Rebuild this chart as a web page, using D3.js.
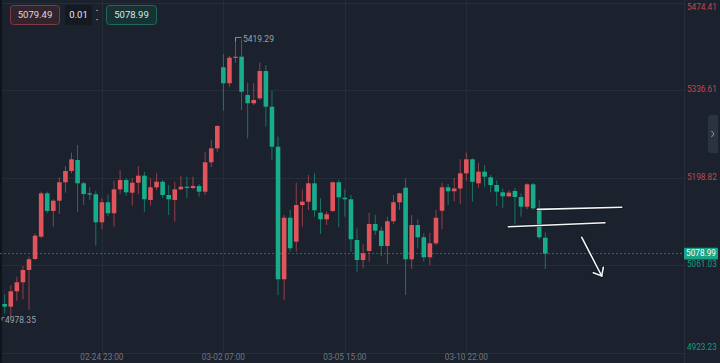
<!DOCTYPE html>
<html>
<head>
<meta charset="utf-8">
<script src="https://cdn.jsdelivr.net/npm/d3@7"></script>
<style>
  html, body { margin: 0; padding: 0; background: #1b212d; }
  svg { display: block; }
  text { font-family: Roboto, "Liberation Sans", sans-serif; }
</style>
</head>
<body>
<svg id="chart" width="720" height="363"></svg>
<script>
// ---------------- data ----------------
const opens = [4999.6,4995.4,5019.6,5033.8,5053.2,5070.5,5105.6,5173.9,5146.1,5162.3,
  5191.3,5209.1,5226.4,5189.7,5173.9,5172.4,5128.3,5159.8,5142.5,5180.2,
  5194.9,5174.9,5190.6,5201.7,5163.4,5183.4,5192.2,5171.3,5163.4,5180.2,
  5184.3,5182.3,5185.4,5176.5,5222.8,5244.8,5372.4,5347.2,5387.5,5389.1,
  5328.8,5315.7,5323.5,5366.5,5310.3,5247.3,5038.5,5135.5,5097.7,5155.5,
  5160.7,5189.7,5143.4,5133.0,5146.1,5191.3,5167.0,5164.5,5100.4,5068.9,
  5083.1,5125.6,5115.1,5091.0,5129.9,5159.8,5182.8,5070.0,5124.0,5104.7,
  5073.2,5095.2,5146.5,5183.4,5177.1,5181.5,5205.4,5227.5,5189.7,5208.0,
  5199.1,5187.0,5175.5,5169.2,5177.6,5168.1,5152.8,5188.1,5149.2,5104.0];
const highs = [5014.9,5029.1,5042.6,5059.5,5074.1,5111.0,5176.5,5176.5,5164.5,5199.1,
  5216.9,5237.9,5250.0,5192.2,5183.4,5177.6,5166.1,5172.4,5193.8,5210.6,
  5197.6,5197.6,5216.9,5208.0,5197.6,5205.4,5194.9,5187.0,5192.2,5201.2,
  5200.1,5200.1,5188.6,5239.4,5257.9,5281.5,5393.3,5390.2,5419.29,5416.5,
  5348.1,5347.2,5380.2,5376.0,5335.5,5263.1,5139.8,5147.6,5190.6,5180.2,
  5202.8,5205.4,5166.1,5145.3,5192.5,5194.9,5180.2,5171.3,5118.8,5093.6,
  5143.4,5139.8,5121.3,5137.1,5171.3,5174.9,5197.6,5139.8,5133.0,5111.0,
  5111.9,5147.6,5190.6,5188.6,5198.0,5227.6,5238.2,5229.1,5222.0,5218.5,
  5202.8,5194.1,5181.8,5179.1,5182.3,5173.9,5189.7,5190.2,5163.4,5112.2];
const lows = [4985.0,4978.35,5004.3,5007.0,4990.2,5068.9,5103.1,5142.5,5121.3,5141.3,
  5174.9,5205.4,5145.0,5155.5,5163.4,5091.4,5117.3,5138.2,5121.3,5172.8,
  5170.2,5154.4,5172.4,5145.0,5154.4,5179.1,5166.1,5139.8,5129.2,5179.1,
  5166.1,5180.2,5168.6,5171.3,5214.9,5239.4,5304.0,5341.8,5379.6,5305.1,
  5260.6,5313.0,5320.9,5278.8,5226.4,5013.8,5005.9,5082.0,5082.0,5121.3,
  5147.6,5137.1,5109.9,5124.0,5144.5,5120.4,5137.1,5082.0,5050.5,5055.8,
  5066.2,5108.3,5075.2,5062.6,5125.6,5147.6,5013.8,5054.7,5087.3,5066.2,
  5061.0,5092.5,5117.3,5155.5,5160.7,5157.1,5193.3,5160.7,5182.8,5184.3,
  5175.2,5153.9,5150.8,5168.1,5125.3,5137.1,5148.7,5147.6,5101.5,5054.7];
const closes = [4995.4,5019.6,5033.8,5053.2,5070.0,5107.2,5173.9,5146.1,5162.3,5191.3,
  5209.1,5227.5,5189.7,5172.8,5172.4,5128.3,5159.8,5142.5,5180.2,5194.9,
  5175.5,5190.6,5201.7,5164.5,5183.4,5192.2,5171.3,5164.5,5180.2,5184.3,
  5183.4,5185.4,5176.5,5222.8,5244.8,5279.9,5347.2,5387.5,5389.1,5333.9,
  5315.7,5320.9,5366.5,5310.3,5247.3,5038.5,5135.5,5087.3,5155.5,5160.7,
  5189.7,5147.2,5133.0,5140.9,5191.3,5167.6,5164.5,5101.5,5068.9,5079.5,
  5125.6,5115.1,5091.0,5129.9,5159.8,5173.9,5070.0,5124.0,5104.7,5073.2,
  5095.2,5135.5,5183.4,5177.1,5181.5,5205.4,5227.5,5192.1,5208.0,5200.1,
  5187.0,5176.5,5169.2,5174.9,5168.1,5152.8,5188.1,5150.3,5104.7,5078.99];

const priceTicks = [5474.41, 5336.61, 5198.82, 5061.03, 4923.23];
const timeTickIndex = [16, 36, 56, 76];
const timeTickLabels = ["02-24 23:00", "03-02 07:00", "03-05 15:00", "03-10 22:00"];
const currentPrice = 5078.99;
const highMark = { index: 38, price: 5419.29, label: "5419.29" };
const lowMark = { index: 1, price: 4978.35, label: "4978.35" };
const topControls = ["5079.49", "0.01", "5078.99"];
// user drawn annotations in (candle index, price) space
const annoLines = [
  [[87.69, 5148.7], [101.58, 5151.9]],
  [[82.91, 5121.3], [98.83, 5127.6]]
];
const annoArrow = [[95.0, 5104.6], [98.29, 5043.7]];
const annoArrowHead = [[96.91, 5048.9], [98.29, 5043.7], [98.55, 5057.4]];

// ---------------- layout ----------------
const W = 720, H = 363;
const plotRight = 684, plotBottom = 352.5;
const UP = "#e2545c", DOWN = "#17ad8a";
const UP_TXT = "#c4464f", DOWN_TXT = "#169c80";

const svg = d3.select("#chart");
const x = d3.scaleLinear().domain([0, 89]).range([4.7, 545.3]);
const y = d3.scaleLinear().domain([4923.23, 5474.41]).range([352.5, 2.5]);

svg.append("rect").attr("width", W).attr("height", H).attr("fill", "#1b212d");

// grid
const grid = svg.append("g").attr("stroke", "#252d3b").attr("stroke-width", 1);
grid.selectAll("line.h").data(priceTicks).join("line")
  .attr("x1", 0).attr("x2", plotRight)
  .attr("y1", d => Math.round(y(d)) + 0.5).attr("y2", d => Math.round(y(d)) + 0.5);
grid.selectAll("line.v").data(timeTickIndex).join("line")
  .attr("x1", d => Math.round(x(d)) + 0.5).attr("x2", d => Math.round(x(d)) + 0.5)
  .attr("y1", 0).attr("y2", plotBottom);
// right axis border
svg.append("line").attr("x1", plotRight + 0.5).attr("x2", plotRight + 0.5)
  .attr("y1", 0).attr("y2", H).attr("stroke", "#262e3c");

// left dark edge
svg.append("rect").attr("x", 0).attr("y", 0).attr("width", 2).attr("height", H).attr("fill", "#0f131a");

// current price dotted line
svg.append("line").attr("x1", 0).attr("x2", plotRight)
  .attr("y1", y(currentPrice)).attr("y2", y(currentPrice))
  .attr("stroke", "#1c7563").attr("stroke-width", 1).attr("stroke-dasharray", "2,2");

// candles
const data = opens.map((o, i) => ({ i, o, h: highs[i], l: lows[i], c: closes[i] }));
const bw = 4.6;
const cg = svg.append("g");
const cand = cg.selectAll("g").data(data).join("g");
cand.append("line")
  .attr("x1", d => x(d.i)).attr("x2", d => x(d.i))
  .attr("y1", d => y(d.h)).attr("y2", d => y(d.l))
  .attr("stroke", d => d.c >= d.o ? UP : DOWN)
  .attr("stroke-opacity", 0.6)
  .attr("stroke-width", 1);
cand.append("rect")
  .attr("x", d => x(d.i) - bw / 2)
  .attr("width", bw)
  .attr("y", d => y(Math.max(d.o, d.c)))
  .attr("height", d => Math.max(1.2, Math.abs(y(d.o) - y(d.c))))
  .attr("fill", d => d.c >= d.o ? UP : DOWN);

// high / low markers
const markCol = "#9aa1ad";
svg.append("path")
  .attr("d", `M${x(highMark.index)},${y(highMark.price) + 4}V${y(highMark.price)}H${x(highMark.index) + 6}`)
  .attr("fill", "none").attr("stroke", markCol).attr("stroke-width", 0.8);
svg.append("text").attr("x", x(highMark.index) + 7.5).attr("y", y(highMark.price) + 2)
  .attr("dominant-baseline", "middle").attr("font-size", 8.5).attr("fill", markCol)
  .text(highMark.label);
svg.append("path")
  .attr("d", `M2,${y(lowMark.price) + 3}V${y(lowMark.price)}H4.5`)
  .attr("fill", "none").attr("stroke", markCol).attr("stroke-width", 0.8);
svg.append("text").attr("x", 5).attr("y", y(lowMark.price) + 3)
  .attr("dominant-baseline", "middle").attr("font-size", 8.5).attr("fill", markCol)
  .text(lowMark.label);

// annotations (white lines with dark outline)
const line = d3.line().x(d => x(d[0])).y(d => y(d[1]));
const anno = svg.append("g").attr("fill", "none").attr("stroke-linecap", "round");
[...annoLines, annoArrow, annoArrowHead].forEach(pts => {
  anno.append("path").attr("d", line(pts)).attr("stroke", "#0c0f14").attr("stroke-width", 3.2).attr("stroke-opacity", 0.7);
});
[...annoLines, annoArrow, annoArrowHead].forEach(pts => {
  anno.append("path").attr("d", line(pts)).attr("stroke", "#f4f5f7").attr("stroke-width", 1.6);
});

// right price axis labels
const lblY = v => Math.min(347.5, Math.max(8.3, y(v)));
svg.append("g").selectAll("text").data(priceTicks).join("text")
  .attr("x", 687).attr("y", lblY)
  .attr("dominant-baseline", "middle")
  .attr("font-size", 8.2)
  .attr("fill", d => d > currentPrice ? UP_TXT : DOWN_TXT)
  .text(d => d.toFixed(2));

// current price box
svg.append("rect").attr("x", 684).attr("y", y(currentPrice) - 5.8).attr("width", 34).attr("height", 11.6)
  .attr("fill", "#18a386").attr("rx", 1);
svg.append("text").attr("x", 701).attr("y", y(currentPrice) + 0.5)
  .attr("text-anchor", "middle").attr("dominant-baseline", "middle")
  .attr("font-size", 8.2).attr("fill", "#ffffff").text(currentPrice.toFixed(2));

// right side collapse tab
svg.append("path").attr("d", "M718,115 H711 Q708,115 708,118 V150 Q708,153 711,153 H718 Z").attr("fill", "#2c3340");
svg.append("path").attr("d", "M711.5,131 L714,134 L711.5,137").attr("fill", "none")
  .attr("stroke", "#9aa1ad").attr("stroke-width", 0.9);

// bottom time axis labels
svg.append("g").selectAll("text").data(timeTickIndex).join("text")
  .attr("x", d => x(d)).attr("y", 357.5)
  .attr("text-anchor", "middle").attr("dominant-baseline", "middle")
  .attr("font-size", 8.2).attr("fill", "#6f7683")
  .text((d, k) => timeTickLabels[k]);

// top-left controls
const ctl = svg.append("g");
ctl.append("rect").attr("x", 10.5).attr("y", 5.5).attr("width", 49).attr("height", 19).attr("rx", 3)
  .attr("fill", "#33232c").attr("stroke", "#7e3a44");
ctl.append("text").attr("x", 35).attr("y", 15.5).attr("text-anchor", "middle").attr("dominant-baseline", "middle")
  .attr("font-size", 9.5).attr("fill", "#e3d6d8").text(topControls[0]);
ctl.append("rect").attr("x", 65).attr("y", 5).attr("width", 27).attr("height", 20).attr("rx", 2)
  .attr("fill", "#141922");
ctl.append("text").attr("x", 78.5).attr("y", 15.5).attr("text-anchor", "middle").attr("dominant-baseline", "middle")
  .attr("font-size", 9.5).attr("fill", "#e6e8ec").text(topControls[1]);
ctl.append("path").attr("d", "M95.5,11 L97,9.5 L98.5,11 Z M95.5,19 L97,20.5 L98.5,19 Z").attr("fill", "#8a909b");
ctl.append("rect").attr("x", 106.5).attr("y", 5.5).attr("width", 50).attr("height", 19).attr("rx", 3)
  .attr("fill", "#173233").attr("stroke", "#1f6a5c");
ctl.append("text").attr("x", 131.5).attr("y", 15.5).attr("text-anchor", "middle").attr("dominant-baseline", "middle")
  .attr("font-size", 9.5).attr("fill", "#d8e6e3").text(topControls[2]);
</script>
</body>
</html>
